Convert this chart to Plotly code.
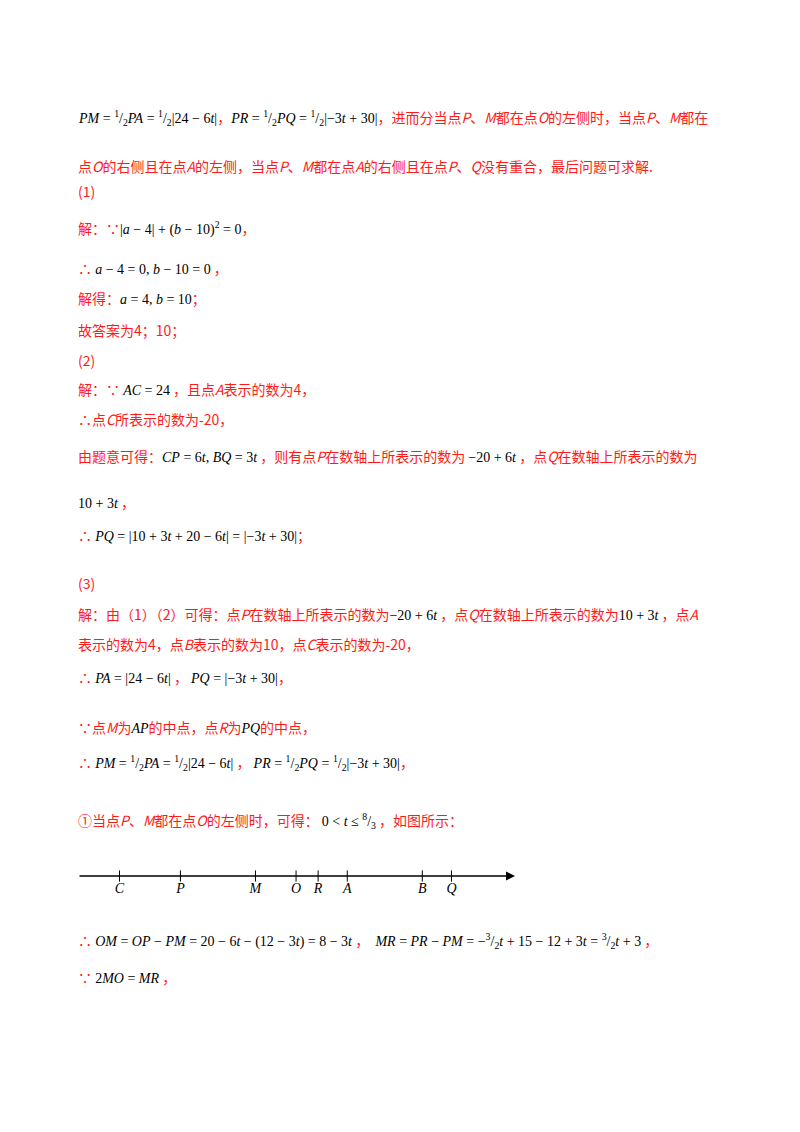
import plotly.graph_objects as go

# number line (not to scale)
point_labels = ["C", "P", "M", "O", "R", "A", "B", "Q"]
point_values = [-20, -13.1, -4.6, 0, 2.5, 5.8, 14.3, 17.6]
axis_range = [-24.7, 24.8]

RED = "#ff1a1a"
W, H = 800, 1132
OFF = 8  # page body margin in the browser


def px(x):
    return (x - OFF) / W


def py(y):
    return 1 - (y - OFF) / H


def r(s):
    return f'<span style="color:{RED}">{s}</span>'


def m(s):
    return f'<span style="color:black;font-family:Liberation Serif"><i>{s}</i></span>'


half = "<sup>1</sup>/<sub>2</sub>"

text_lines = [
    (117, m(f"PM</i> = {half}<i>PA</i> = {half}|24 − 6<i>t</i>|") + r("，") +
     m(f"PR</i> = {half}<i>PQ</i> = {half}|−3<i>t</i> + 30|") +
     r("，进而分当点<i>P</i>、<i>M</i>都在点<i>O</i>的左侧时，当点<i>P</i>、<i>M</i>都在")),
    (166, r("点<i>O</i>的右侧且在点<i>A</i>的左侧，当点<i>P</i>、<i>M</i>都在点<i>A</i>的右侧且在点<i>P</i>、<i>Q</i>没有重合，最后问题可求解.")),
    (191, r("(1)")),
    (228, r("解：∵") + m("</i>|<i>a</i> − 4| + (<i>b</i> − 10)<sup>2</sup> = 0") + r("，")),
    (268, r("∴ ") + m("a</i> − 4 = 0, <i>b</i> − 10 = 0") + r(" ，")),
    (298, r("解得：") + m("a</i> = 4, <i>b</i> = 10") + r("；")),
    (330, r("故答案为4；10；")),
    (360, r("(2)")),
    (389, r("解：∵ ") + m("AC</i> = 24") + r(" ，且点<i>A</i>表示的数为4，")),
    (419, r("∴点<i>C</i>所表示的数为-20，")),
    (456, r("由题意可得：") + m("CP</i> = 6<i>t</i>, <i>BQ</i> = 3<i>t</i>") +
     r(" ，则有点<i>P</i>在数轴上所表示的数为 ") + m("</i>−20 + 6<i>t</i>") +
     r(" ，点<i>Q</i>在数轴上所表示的数为")),
    (502, m("</i>10 + 3<i>t</i>") + r(" ，")),
    (535, r("∴ ") + m("PQ</i> = |10 + 3<i>t</i> + 20 − 6<i>t</i>| = |−3<i>t</i> + 30|") + r("；")),
    (583, r("(3)")),
    (614, r("解：由（1）（2）可得：点<i>P</i>在数轴上所表示的数为") + m("</i>−20 + 6<i>t</i>") +
     r(" ，点<i>Q</i>在数轴上所表示的数为") + m("</i>10 + 3<i>t</i>") + r(" ，点<i>A</i>")),
    (644, r("表示的数为4，点<i>B</i>表示的数为10，点<i>C</i>表示的数为-20，")),
    (677, r("∴ ") + m("PA</i> = |24 − 6<i>t</i>|") + r(" ， ") + m("PQ</i> = |−3<i>t</i> + 30|") + r("，")),
    (727, r("∵点<i>M</i>为") + m("AP") + r("的中点，点<i>R</i>为") + m("PQ") + r("的中点，")),
    (762, r("∴ ") + m(f"PM</i> = {half}<i>PA</i> = {half}|24 − 6<i>t</i>|") + r(" ， ") +
     m(f"PR</i> = {half}<i>PQ</i> = {half}|−3<i>t</i> + 30|") + r("，")),
    (820, r("①当点<i>P</i>、<i>M</i>都在点<i>O</i>的左侧时，可得： ") +
     m("</i>0 &lt; <i>t</i> ≤ <sup>8</sup>/<sub>3</sub>") + r(" ，如图所示：")),
    (940, r("∴ ") + m("OM</i> = <i>OP</i> − <i>PM</i> = 20 − 6<i>t</i> − (12 − 3<i>t</i>) = 8 − 3<i>t</i>") +
     r(" ，  ") + m("MR</i> = <i>PR</i> − <i>PM</i> = −<sup>3</sup>/<sub>2</sub><i>t</i> + 15 − 12 + 3<i>t</i> = <sup>3</sup>/<sub>2</sub><i>t</i> + 3") +
     r(" ，")),
    (977, r("∵ ") + m("</i>2<i>MO</i> = <i>MR</i>") + r(" ，")),
]

fig = go.Figure()

fig.add_trace(go.Scatter(
    x=point_values, y=[0] * len(point_values),
    mode="markers+text",
    marker=dict(symbol="line-ns", size=8, line=dict(width=1, color="black"), color="black"),
    text=[f"<i>{p}</i>" for p in point_labels],
    textposition="bottom center",
    textfont=dict(family="Liberation Serif", size=14, color="black"),
    hoverinfo="skip", showlegend=False, cliponaxis=False,
))
# axis line with arrow
fig.add_annotation(x=axis_range[1], y=0, ax=axis_range[0], ay=0,
                   xref="x", yref="y", axref="x", ayref="y",
                   showarrow=True, arrowhead=2, arrowsize=1.2, arrowwidth=1.5,
                   arrowcolor="black", text="")

line_y = 876
fig.update_xaxes(range=axis_range, domain=[px(78), px(515)], visible=False)
fig.update_yaxes(range=[-1, 1], domain=[py(line_y + 20), py(line_y - 20)], visible=False)

for y, txt in text_lines:
    fig.add_annotation(x=px(76), y=py(y), xref="paper", yref="paper",
                       xanchor="left", yanchor="middle", showarrow=False,
                       text=txt, align="left",
                       font=dict(family="Noto Sans CJK SC", size=14, color=RED))

fig.update_layout(width=W, height=H, margin=dict(l=0, r=0, t=0, b=0),
                  paper_bgcolor="white", plot_bgcolor="white")

fig.write_html("out.html")
